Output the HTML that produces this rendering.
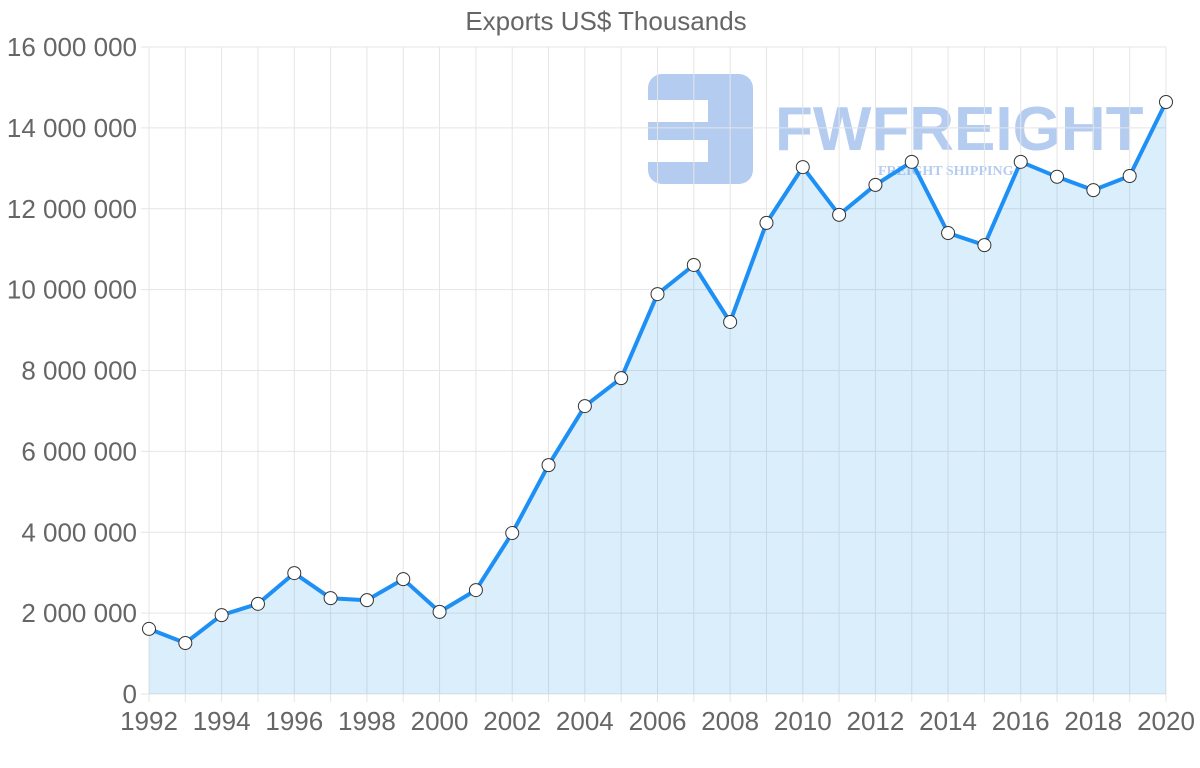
<!DOCTYPE html>
<html><head><meta charset="utf-8"><style>
body{margin:0;background:#fff;width:1200px;height:763px;overflow:hidden}
svg{font-family:"Liberation Sans",Arial,sans-serif}
</style></head><body>
<svg id="chart" width="1200" height="763">
<text x="606" y="30" text-anchor="middle" font-size="26" fill="#666">Exports US$ Thousands</text>
<g opacity="0.45">
<rect x="648" y="74" width="105" height="110" rx="14" fill="#5b8fe0"/>
<rect x="648" y="100" width="60" height="22" fill="#fff"/>
<rect x="648" y="140" width="60" height="22" fill="#fff"/>
<text x="775" y="150" font-size="62" font-weight="bold" fill="#5b8fe0">FWFREIGHT</text>
<text x="878" y="175" font-size="14" font-weight="bold" fill="#5b8fe0" font-family="Liberation Serif,serif">FREIGHT SHIPPING</text>
</g>
<g id="grid"></g><g id="area"></g><g id="line"></g><g id="pts"></g><g id="labels"></g>
</svg>
<script>
const years=[1992,1993,1994,1995,1996,1997,1998,1999,2000,2001,2002,2003,2004,2005,2006,2007,2008,2009,2010,2011,2012,2013,2014,2015,2016,2017,2018,2019,2020];
const values=[1610000,1260000,1950000,2230000,2990000,2370000,2320000,2840000,2030000,2570000,3980000,5660000,7120000,7810000,9890000,10610000,9200000,11650000,13030000,11850000,12590000,13160000,11400000,11100000,13160000,12790000,12460000,12810000,14640000];
const yTicks=[0,2000000,4000000,6000000,8000000,10000000,12000000,14000000,16000000];
const yTickLabels=["0","2 000 000","4 000 000","6 000 000","8 000 000","10 000 000","12 000 000","14 000 000","16 000 000"];
const NS="http://www.w3.org/2000/svg";
const x0=149,x1=1166,yb=694,yt=47;
const X=yr=>x0+(yr-years[0])/(years[years.length-1]-years[0])*(x1-x0);
const Y=v=>yb-v/16000000*(yb-yt);
function mk(tag,attrs,parent){const e=document.createElementNS(NS,tag);for(const k in attrs)e.setAttribute(k,attrs[k]);document.getElementById(parent).appendChild(e);return e;}
yTicks.forEach((t,i)=>{
 const l=mk('line',{x1:x0-8,x2:x1,y1:Y(t),y2:Y(t),stroke:'#e5e5e5'},'grid');
 
 
 const tx=mk('text',{x:137,y:Y(t)+9,'text-anchor':'end','font-size':26,fill:'#666'},'labels');
 tx.textContent=yTickLabels[i];
 
 
});
years.forEach(yr=>{
 const l=mk('line',{x1:X(yr),x2:X(yr),y1:yt,y2:yb+8,stroke:'#e5e5e5'},'grid');
 
 
 if(yr%2===0){
  const tx=mk('text',{x:X(yr),y:730,'text-anchor':'middle','font-size':26,fill:'#666'},'labels');
  tx.textContent=yr;
  
  
 }
});
const pts=years.map((yr,i)=>[X(yr),Y(values[i])]);
const d=pts.map((p,i)=>(i?'L':'M')+p[0].toFixed(1)+','+p[1].toFixed(1)).join('');
const a=mk('path',{d:d+'L'+x1+','+yb+'L'+x0+','+yb+'Z',fill:'rgba(54,162,235,0.18)'},'area');


const ln=mk('path',{d:d,fill:'none',stroke:'#1e90f5','stroke-width':4,'stroke-linejoin':'round'},'line');


pts.forEach(p=>{
 const c=mk('circle',{cx:p[0],cy:p[1],r:6.5,fill:'#fff',stroke:'#333','stroke-width':1},'pts');
 
 
});
</script>
</body></html>
